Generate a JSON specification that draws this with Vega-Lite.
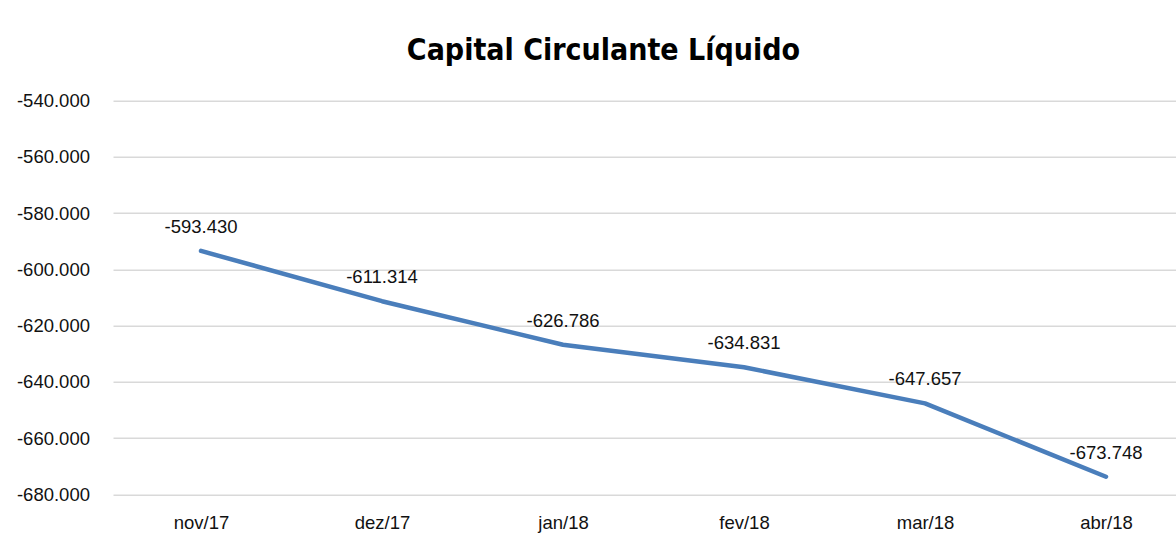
{
  "$schema": "https://vega.github.io/schema/vega-lite/v6.json",
  "autosize": "none",
  "width": 1063,
  "height": 393.6,
  "padding": {"left": 113, "top": 100.7, "right": 0, "bottom": 60.7},
  "background": "white",
  "config": {
    "locale": {"number": {"decimal": ",", "thousands": ".", "grouping": [3], "currency": ["R$", ""], "minus": "-"}},
    "view": {"stroke": null},
    "font": "Liberation Sans"
  },
  "title": {
    "text": "Capital Circulante Líquido",
    "font": "Liberation Sans Narrow, DejaVu Sans Condensed, Liberation Sans",
    "fontWeight": "bold",
    "fontSize": 30,
    "color": "#000000",
    "anchor": "middle",
    "dx": -41,
    "dy": 41,
    "baseline": "alphabetic",
    "offset": 43
  },
  "data": {
    "values": [
      {"mes": "nov/17", "valor": -593430},
      {"mes": "dez/17", "valor": -611314},
      {"mes": "jan/18", "valor": -626786},
      {"mes": "fev/18", "valor": -634831},
      {"mes": "mar/18", "valor": -647657},
      {"mes": "abr/18", "valor": -673748}
    ]
  },
  "encoding": {
    "x": {
      "field": "mes",
      "type": "ordinal",
      "sort": null,
      "scale": {"type": "point", "padding": 0.4365, "align": 0.557},
      "axis": {
        "title": null,
        "labelAngle": 0,
        "ticks": false,
        "tickSize": 0,
        "domain": false,
        "grid": false,
        "labelFontSize": 18.5,
        "labelColor": "#111111",
        "labelBaseline": "middle",
        "labelPadding": 28.4
      }
    },
    "y": {
      "field": "valor",
      "type": "quantitative",
      "scale": {"domain": [-680000, -540000], "nice": false, "zero": false},
      "axis": {
        "title": null,
        "values": [-680000, -660000, -640000, -620000, -600000, -580000, -560000, -540000],
        "format": ",d",
        "ticks": false,
        "tickSize": 0,
        "domain": false,
        "gridColor": "#d9d9d9",
        "gridWidth": 1.4,
        "labelFontSize": 18.5,
        "labelColor": "#111111",
        "labelPadding": 23.5,
        "labelBaseline": "middle"
      }
    }
  },
  "layer": [
    {
      "mark": {"type": "line", "color": "#4a7ebb", "strokeWidth": 4.5, "strokeCap": "round", "strokeJoin": "round"}
    },
    {
      "mark": {"type": "text", "dy": -24, "fontSize": 18.5, "color": "#111111", "baseline": "middle", "align": "center"},
      "encoding": {"text": {"field": "valor", "type": "quantitative", "format": ",d"}}
    }
  ]
}
